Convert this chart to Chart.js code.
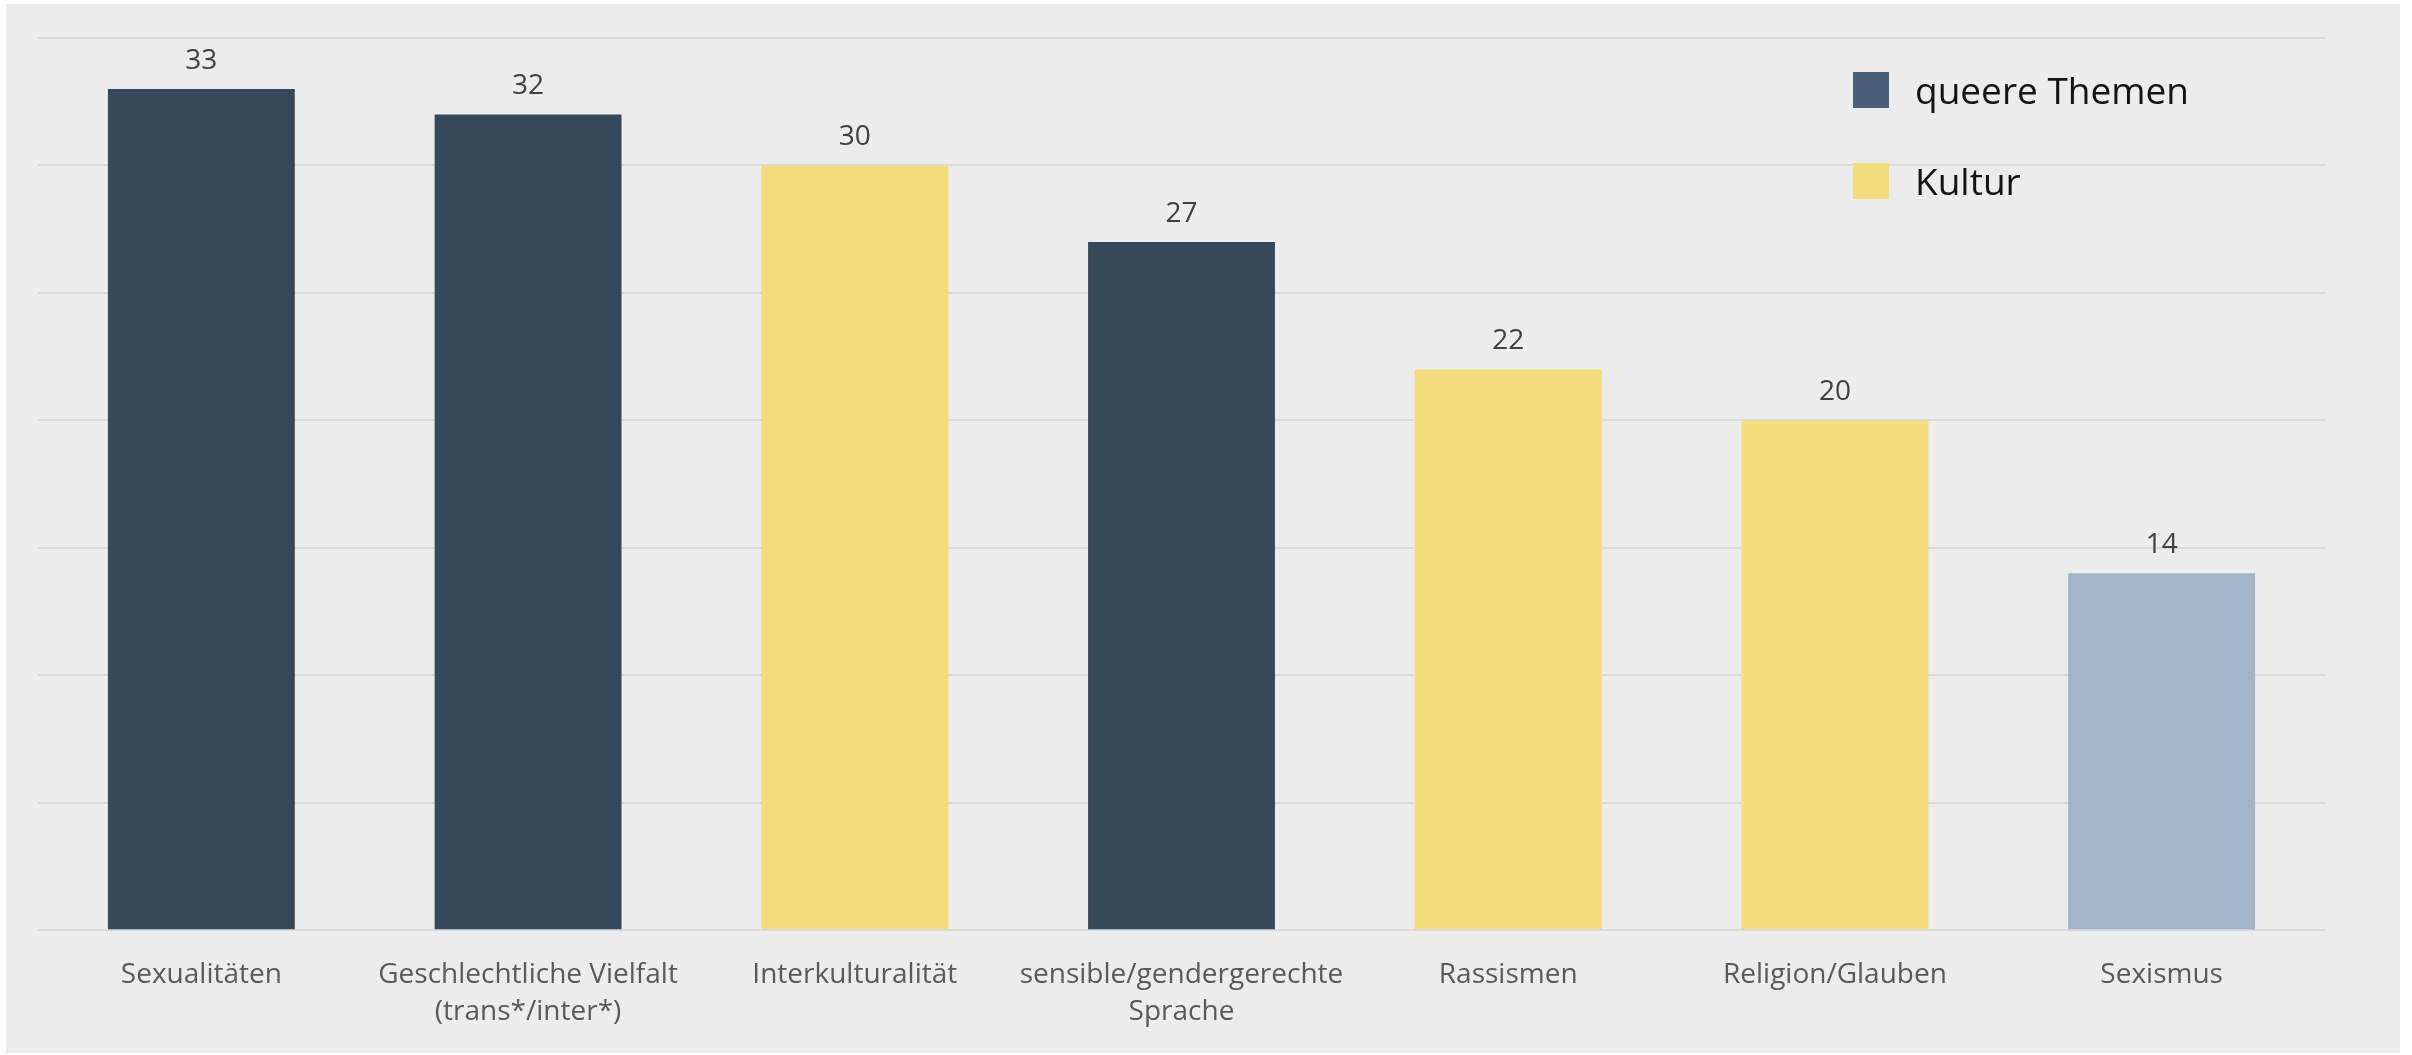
<!DOCTYPE html>
<html>
<head>
<meta charset="utf-8">
<script src="https://cdn.jsdelivr.net/npm/chart.js"></script>
<style>
  html, body { margin: 0; padding: 0; background: #fff; }
  body { width: 2412px; height: 1055px; position: relative; overflow: hidden; }
  .panel { position: absolute; left: 6px; top: 4px; width: 2394px; height: 1049px; background: #ececec; }
  .panel canvas { position: absolute; left: 0; top: 0; }
  .legend { position: absolute; left: 1847px; top: 40px; font-family: 'Open Sans', sans-serif; font-size: 37px; color: #141414; }
  .legend .item { display: flex; align-items: center; height: 91px; }
  .legend .sw { width: 36px; height: 36px; margin-right: 26px; }
</style>
</head>
<body>
<div class="panel">
  <canvas id="chart" width="2394" height="1053"></canvas>
  <div class="legend" id="legend"></div>
</div>
<script>
// ── DATA ────────────────────────────────────────────────────
const categories = [
  'Sexualitäten',
  ['Geschlechtliche Vielfalt', '(trans*/inter*)'],
  'Interkulturalität',
  ['sensible/gendergerechte', 'Sprache'],
  'Rassismen',
  'Religion/Glauben',
  'Sexismus'
];
const values = [33, 32, 30, 27, 22, 20, 14];
const barColors = ['#36495a', '#36495a', '#f2dc7c', '#36495a', '#f2dc7c', '#f2dc7c', '#a3b4ca'];
const yTicks = [0, 5, 10, 15, 20, 25, 30, 35];

const legendLabels = ['queere Themen', 'Kultur'];
const legendColors = ['#4a6078', '#f2dc7c'];

const $ = id => document.getElementById(id);

// ── LEGEND ──────────────────────────────────────────────────
legendLabels.forEach((txt, i) => {
  const d = document.createElement('div');
  d.className = 'item';
  d.innerHTML = `<span class="sw" style="background:${legendColors[i]}"></span><span>${txt}</span>`;
  $('legend').appendChild(d);
});

// ── VALUE LABELS ────────────────────────────────────────────
const valueLabels = {
  id: 'valueLabels',
  afterDatasetsDraw(chart) {
    const ctx = chart.ctx;
    const meta = chart.getDatasetMeta(0);
    ctx.save();
    ctx.font = '28px "Open Sans", sans-serif';
    ctx.fillStyle = '#404040';
    ctx.textAlign = 'center';
    ctx.textBaseline = 'alphabetic';
    meta.data.forEach((bar, i) => {
      ctx.fillText(String(values[i]), bar.x, bar.y - 20);
    });
    ctx.restore();
  }
};

// ── CHART ───────────────────────────────────────────────────
new Chart($('chart'), {
  type: 'bar',
  data: {
    labels: categories,
    datasets: [{
      data: values,
      backgroundColor: barColors,
      borderWidth: 0,
      categoryPercentage: 1,
      barPercentage: 0.572
    }]
  },
  options: {
    responsive: false,
    animation: false,
    layout: { padding: { left: 32, right: 75, top: 34, bottom: 0 } },
    plugins: { legend: { display: false }, tooltip: { enabled: false } },
    scales: {
      x: {
        grid: { display: false, drawTicks: false },
        border: { display: false },
        ticks: {
          color: '#595959',
          padding: 27,
          maxRotation: 0,
          autoSkip: false,
          font: { family: "'Open Sans', sans-serif", size: 28, lineHeight: 1.3 }
        }
      },
      y: {
        min: 0,
        max: yTicks[yTicks.length - 1],
        afterBuildTicks: axis => { axis.ticks = yTicks.map(v => ({ value: v })); },
        grid: { color: '#d9d9d9', lineWidth: 2, drawTicks: false },
        border: { display: false },
        ticks: { display: false }
      }
    }
  },
  plugins: [valueLabels]
});
</script>
</body>
</html>
